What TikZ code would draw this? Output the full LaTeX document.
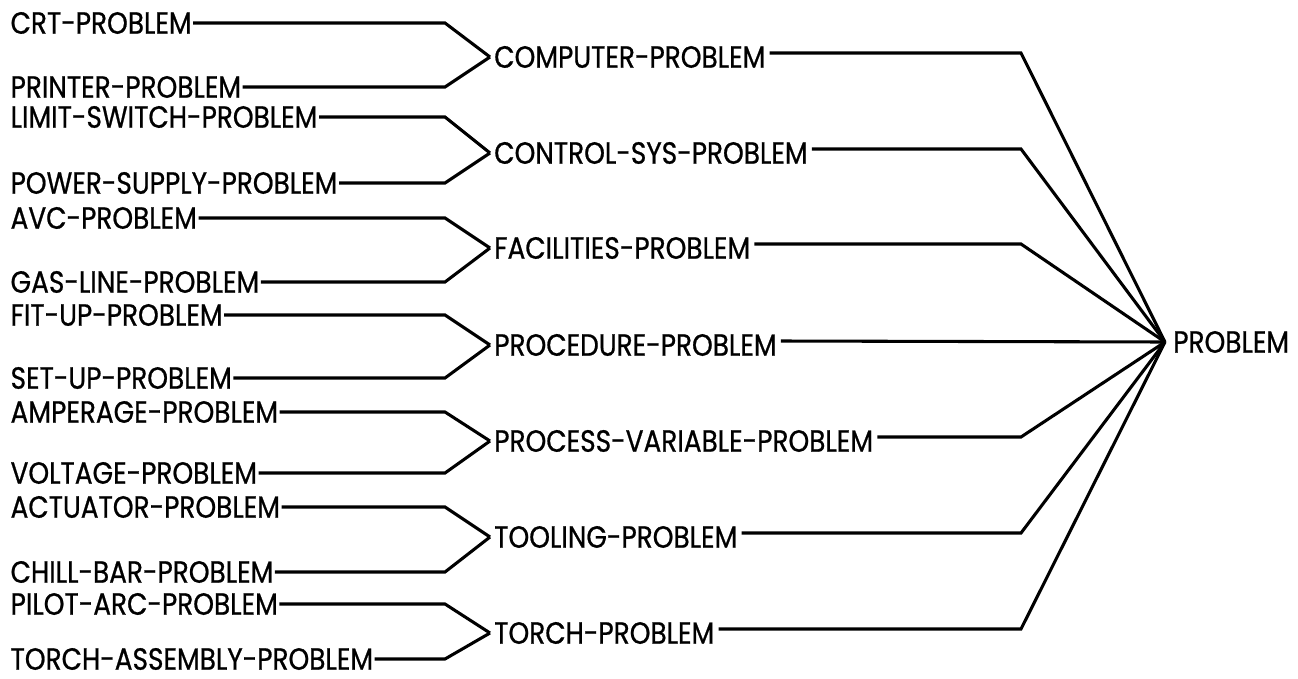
\documentclass[tikz,border=0pt]{standalone}
\usepackage{fontspec}
\setmainfont{Poppins}[FakeStretch=0.86, FakeBold=0.7]
\usetikzlibrary{calc}

\begin{document}
\begin{tikzpicture}[x=0.75pt,y=-0.75pt,
  font=\fontsize{23pt}{26pt}\selectfont,
  leafnode/.style={anchor=west, inner xsep=1pt, inner ysep=0pt},
  midnode/.style={anchor=west, inner xsep=3pt, inner ysep=0pt},
  rootnode/.style={anchor=west, inner xsep=6pt, inner ysep=0pt},
  wire/.style={line width=2.3pt, line join=miter}]
\useasboundingbox (0,0) rectangle (1298,678);

%bend columns
\coordinate (lbend) at (445,0);
\coordinate (rbend) at (1021,0);

%root
\node[rootnode] (prb) at (1165,342) {PROBLEM};

%middle nodes
\node[midnode] (cmp) at (490,57)  {COMPUTER-PROBLEM};
\node[midnode] (ctl) at (490,153) {CONTROL-SYS-PROBLEM};
\node[midnode] (fac) at (490,248) {FACILITIES-PROBLEM};
\node[midnode] (prc) at (490,345) {PROCEDURE-PROBLEM};
\node[midnode] (pvr) at (490,441) {PROCESS-VARIABLE-PROBLEM};
\node[midnode] (tlg) at (490,537) {TOOLING-PROBLEM};
\node[midnode] (trc) at (490,633) {TORCH-PROBLEM};

%leaf nodes
\node[leafnode] (crt) at (9,23)  {CRT-PROBLEM};
\node[leafnode] (prn) at (9,87)  {PRINTER-PROBLEM};
\node[leafnode] (lsw) at (9,117) {LIMIT-SWITCH-PROBLEM};
\node[leafnode] (psu) at (9,183) {POWER-SUPPLY-PROBLEM};
\node[leafnode] (avc) at (9,218) {AVC-PROBLEM};
\node[leafnode] (gas) at (9,282) {GAS-LINE-PROBLEM};
\node[leafnode] (fit) at (9,315) {FIT-UP-PROBLEM};
\node[leafnode] (set) at (9,378) {SET-UP-PROBLEM\hspace{4pt}};
\node[leafnode] (amp) at (9,412) {AMPERAGE-PROBLEM\hspace{7pt}};
\node[leafnode] (vlt) at (9,473) {VOLTAGE-PROBLEM};
\node[leafnode] (act) at (9,507) {ACTUATOR-PROBLEM};
\node[leafnode] (chb) at (9,572) {CHILL-BAR-PROBLEM\hspace{7pt}};
\node[leafnode] (pil) at (9,604) {PILOT-ARC-PROBLEM};
\node[leafnode] (tas) at (9,659) {TORCH-ASSEMBLY-PROBLEM\hspace{7pt}};

%leaf to middle
\draw[wire] (crt.east) -- (crt.east -| lbend) -- (cmp.west);
\draw[wire] (prn.east) -- (prn.east -| lbend) -- (cmp.west);
\draw[wire] (lsw.east) -- (lsw.east -| lbend) -- (ctl.west);
\draw[wire] (psu.east) -- (psu.east -| lbend) -- (ctl.west);
\draw[wire] (avc.east) -- (avc.east -| lbend) -- (fac.west);
\draw[wire] (gas.east) -- (gas.east -| lbend) -- (fac.west);
\draw[wire] (fit.east) -- (fit.east -| lbend) -- (prc.west);
\draw[wire] (set.east) -- (set.east -| lbend) -- (prc.west);
\draw[wire] (amp.east) -- (amp.east -| lbend) -- (pvr.west);
\draw[wire] (vlt.east) -- (vlt.east -| lbend) -- (pvr.west);
\draw[wire] (act.east) -- (act.east -| lbend) -- (tlg.west);
\draw[wire] (chb.east) -- (chb.east -| lbend) -- (tlg.west);
\draw[wire] (pil.east) -- (pil.east -| lbend) -- (trc.west);
\draw[wire] (tas.east) -- (tas.east -| lbend) -- (trc.west);

%middle to root
\draw[wire] ([yshift=3pt]cmp.east) -- ([yshift=3pt]cmp.east -| rbend) -- (prb.west);
\draw[wire] ([yshift=3pt]ctl.east) -- ([yshift=3pt]ctl.east -| rbend) -- (prb.west);
\draw[wire] ([yshift=3pt]fac.east) -- ([yshift=3pt]fac.east -| rbend) -- (prb.west);
\draw[wire] ([yshift=3pt]prc.east) -- (prb.west);
\draw[wire] ([yshift=3pt]pvr.east) -- ([yshift=3pt]pvr.east -| rbend) -- (prb.west);
\draw[wire] ([yshift=3pt]tlg.east) -- ([yshift=3pt]tlg.east -| rbend) -- (prb.west);
\draw[wire] ([yshift=3pt]trc.east) -- ([yshift=3pt]trc.east -| rbend) -- (prb.west);
\end{tikzpicture}
\end{document}
